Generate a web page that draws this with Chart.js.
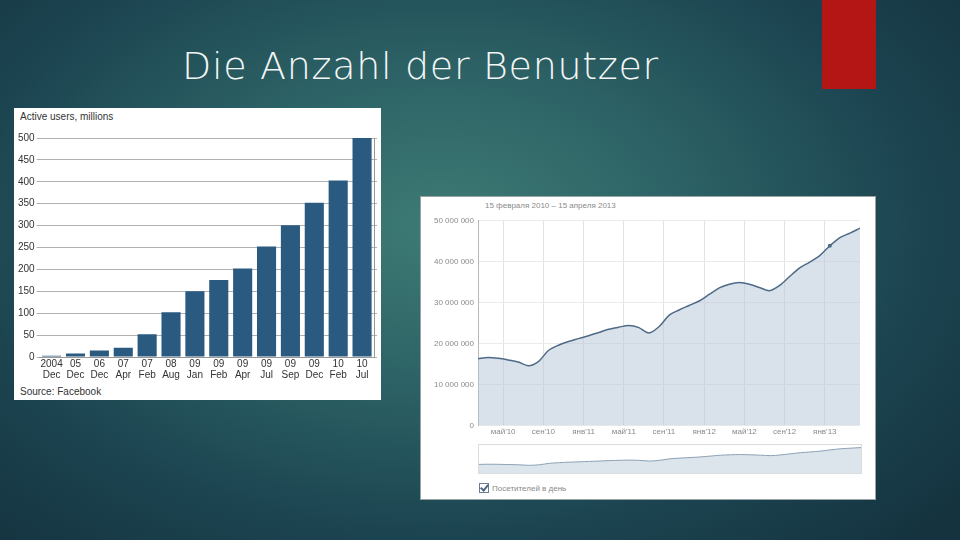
<!DOCTYPE html>
<html>
<head>
<meta charset="utf-8">
<script src="https://cdn.jsdelivr.net/npm/chart.js@4.4.1/dist/chart.umd.min.js"></script>
<style>
  html, body { margin: 0; padding: 0; }
  body {
    width: 960px; height: 540px; overflow: hidden; position: relative;
    background: radial-gradient(ellipse 70% 80% at 46% 42%, #3e7b75 0%, #2d6366 35%, #1c4551 70%, #14333f 100%);
    font-family: "Liberation Sans", Arial, sans-serif;
  }
  .title {
    position: absolute; left: 182px; top: 44px;
    color: #f4f6f6; font-family: "DejaVu Sans", sans-serif; font-weight: 200;
    font-size: 38px; letter-spacing: 0.7px;
  }
  .redbar { position: absolute; left: 822px; top: 0; width: 54px; height: 89px; background: #b41616; }
  .panel { position: absolute; background: #fff; }
  #left { left: 14px; top: 108px; width: 367px; height: 292px; }
  #right { left: 420px; top: 196px; width: 454px; height: 302px; border: 1px solid #9aa3a8; }
  .small { position: absolute; color: #333; font-size: 10px; }
  .grey { position: absolute; color: #8a8a8a; font-size: 8px; }
  .box { position: absolute; }
  .check {
    display: inline-block; width: 8px; height: 8px; border: 1px solid #6a7f94;
    vertical-align: -2px; margin-right: 3px; position: relative;
  }
  .check::after {
    content: ""; position: absolute; left: 2px; top: -1px; width: 3px; height: 6px;
    border: solid #4a6784; border-width: 0 2px 2px 0; transform: rotate(40deg);
  }
</style>
</head>
<body>
<div class="title">Die Anzahl der Benutzer</div>
<div class="redbar"></div>

<div class="panel" id="left">
  <div class="small" style="left:6px; top:3px;">Active users, millions</div>
  <div class="box" style="left:0; top:20px; width:367px; height:254px;"><canvas id="fbChart"></canvas></div>
  <div class="small" style="left:6px; top:278px;">Source: Facebook</div>
</div>

<div class="panel" id="right">
  <div class="grey" style="left:64px; top:4px;">15 февраля 2010 – 15 апреля 2013</div>
  <div class="box" style="left:1px; top:15px; width:450px; height:227px;"><canvas id="vkChart"></canvas></div>
  <div class="box" style="left:57px; top:247px; width:382px; height:28px; border:1px solid #dcdcdc;"><canvas id="navChart"></canvas></div>
  <div class="grey" style="left:58px; top:286px;"><span class="check"></span>Посетителей в день</div>
</div>

<script>
// Facebook active users (millions)
const fbYears = ['2004', '05', '06', '07', '07', '08', '09', '09', '09', '09', '09', '09', '10', '10'];
const fbMonths = ['Dec', 'Dec', 'Dec', 'Apr', 'Feb', 'Aug', 'Jan', 'Feb', 'Apr', 'Jul', 'Sep', 'Dec', 'Feb', 'Jul'];
const fbUsers = [3, 8, 15, 21, 52, 102, 150, 176, 202, 252, 301, 352, 403, 500];

// visitors per day (millions), monthly from 15 Feb 2010 to 15 Apr 2013
const visitors = [16.3, 16.6, 16.4, 16.0, 15.5, 14.6, 15.6, 18.3, 19.6, 20.5,
  21.2, 21.9, 22.7, 23.5, 24.0, 24.4, 23.9, 22.6, 24.1, 26.9,
  28.2, 29.3, 30.4, 32.0, 33.6, 34.5, 34.9, 34.5, 33.7, 32.9,
  34.2, 36.4, 38.5, 39.9, 41.5, 43.9, 45.9, 47.0, 48.2];
const visitTickPos = [2.5, 6.5, 10.5, 14.5, 18.5, 22.5, 26.5, 30.5, 34.5];
const visitTickNames = ["май'10", "сен'10", "янв'11", "май'11", "сен'11", "янв'12", "май'12", "сен'12", "янв'13"];
const visitYTicks = [0, 10, 20, 30, 40, 50];

const fmtBig = v => v === 0 ? '0' : String(Math.round(v * 1000000)).replace(/\B(?=(\d{3})+(?!\d))/g, ' ');

new Chart(document.getElementById('fbChart'), {
  type: 'bar',
  data: {
    labels: fbYears.map((y, i) => [y, fbMonths[i]]),
    datasets: [{
      data: fbUsers,
      backgroundColor: '#2a5a80',
      barPercentage: 0.8,
      categoryPercentage: 1
    }]
  },
  options: {
    responsive: true,
    maintainAspectRatio: false,
    animation: false,
    layout: { padding: { left: 2, right: 4, top: 10, bottom: 0 } },
    plugins: { legend: { display: false }, tooltip: { enabled: false } },
    scales: {
      x: {
        grid: { display: false, drawTicks: false },
        border: { color: '#999' },
        ticks: { color: '#333', font: { size: 10, lineHeight: 1.15 }, maxRotation: 0, autoSkip: false, padding: 1 }
      },
      y: {
        min: 0, max: 500,
        ticks: { stepSize: 50, color: '#333', font: { size: 10 }, padding: 2 },
        grid: { color: '#b0b0b0', tickLength: 3 },
        border: { display: false }
      },
      y2: {
        position: 'right',
        min: 0, max: 500,
        ticks: { display: false, stepSize: 50 },
        grid: { drawOnChartArea: false, tickLength: 3, color: '#b0b0b0' },
        border: { color: '#999' }
      }
    }
  }
});

const visitPoints = visitors.map((v, i) => ({ x: i, y: v }));

new Chart(document.getElementById('vkChart'), {
  type: 'line',
  data: {
    datasets: [{
      data: visitPoints,
      borderColor: '#4e6a86',
      borderWidth: 1.5,
      backgroundColor: 'rgba(180, 197, 215, 0.5)',
      fill: 'origin',
      tension: 0.3,
      pointRadius: ctx => ctx.dataIndex === 35 ? 2 : 0,
      pointBackgroundColor: '#4e6a86',
      pointBorderWidth: 0
    }]
  },
  options: {
    responsive: true,
    maintainAspectRatio: false,
    animation: false,
    layout: { padding: { left: 0, right: 12, top: 8, bottom: 0 } },
    plugins: { legend: { display: false }, tooltip: { enabled: false } },
    scales: {
      x: {
        type: 'linear',
        min: 0, max: 38,
        afterBuildTicks: axis => { axis.ticks = visitTickPos.map(v => ({ value: v })); },
        ticks: { color: '#8a8a8a', font: { size: 8 }, maxRotation: 0, callback: (v, i) => visitTickNames[i], padding: 2 },
        grid: { color: '#e3e3e3', tickLength: 0 },
        border: { display: false }
      },
      y: {
        min: 0, max: 50,
        afterBuildTicks: axis => { axis.ticks = visitYTicks.map(v => ({ value: v })); },
        afterFit: axis => { axis.width = 56; },
        ticks: { color: '#8a8a8a', font: { size: 8 }, callback: v => fmtBig(v), padding: 4 },
        grid: { color: '#ebebeb', tickLength: 0 },
        border: { color: '#b8b8b8' }
      }
    }
  }
});

new Chart(document.getElementById('navChart'), {
  type: 'line',
  data: {
    datasets: [{
      data: visitPoints,
      borderColor: '#8da2b6',
      borderWidth: 1,
      backgroundColor: '#dce4ec',
      fill: 'origin',
      tension: 0.3,
      pointRadius: 0
    }]
  },
  options: {
    responsive: true,
    maintainAspectRatio: false,
    animation: false,
    layout: { padding: 0 },
    plugins: { legend: { display: false }, tooltip: { enabled: false } },
    scales: {
      x: { type: 'linear', min: 0, max: 38, display: false },
      y: { min: 0, max: 53, display: false }
    }
  }
});
</script>
</body>
</html>
